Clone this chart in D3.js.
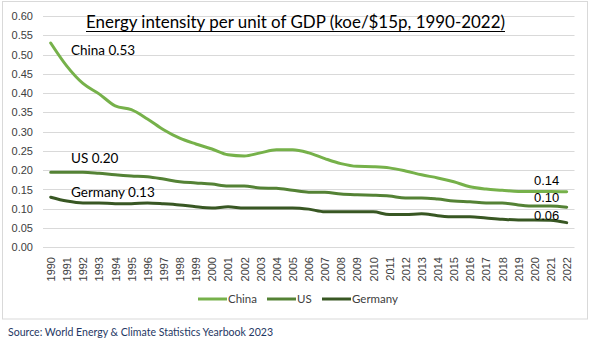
<!DOCTYPE html>
<html>
<head>
<meta charset="utf-8">
<script src="https://cdn.jsdelivr.net/npm/d3@7"></script>
<style>
body { margin: 0; background: #fff; }
svg { display: block; }
</style>
</head>
<body>
<svg id="chart" width="592" height="341"></svg>
<script>
// data
var years = d3.range(1990, 2023).map(String);
var china = [0.530, 0.470, 0.425, 0.398, 0.367, 0.357, 0.333, 0.305, 0.283, 0.268,
             0.255, 0.240, 0.237, 0.245, 0.253, 0.253, 0.245, 0.230, 0.217, 0.210,
             0.209, 0.206, 0.198, 0.188, 0.180, 0.170, 0.157, 0.151, 0.148, 0.145,
             0.145, 0.145, 0.144];
var us = [0.195, 0.195, 0.195, 0.192, 0.188, 0.185, 0.183, 0.177, 0.170, 0.167,
          0.164, 0.159, 0.159, 0.154, 0.153, 0.148, 0.143, 0.143, 0.138, 0.136,
          0.135, 0.133, 0.128, 0.128, 0.125, 0.120, 0.118, 0.115, 0.115, 0.110,
          0.107, 0.107, 0.104];
var germany = [0.130, 0.120, 0.115, 0.115, 0.113, 0.113, 0.115, 0.113, 0.110, 0.105,
               0.102, 0.105, 0.102, 0.102, 0.102, 0.102, 0.099, 0.092, 0.092, 0.092,
               0.092, 0.085, 0.085, 0.087, 0.082, 0.079, 0.079, 0.076, 0.073, 0.071,
               0.071, 0.070, 0.064];
var yTicks = [0, 0.05, 0.1, 0.15, 0.2, 0.25, 0.3, 0.35, 0.4, 0.45, 0.5, 0.55, 0.6];
var seriesNames = ["China", "US", "Germany"];

var series = [
    {name: "China", values: china, color: "#76b14a"},
    {name: "US", values: us, color: "#548235"},
    {name: "Germany", values: germany, color: "#385723"}
];

var svg = d3.select("#chart");
var font = "Lato, 'Open Sans', sans-serif";
var fmt = d3.format(".2f");

// outer frame
svg.append("rect")
    .attr("x", 2.5).attr("y", 1.5)
    .attr("width", 585).attr("height", 317.5)
    .attr("fill", "#fff")
    .attr("stroke", "#d9d9d9")
    .attr("stroke-width", 1);

var xScale = d3.scalePoint()
    .domain(years)
    .range([50.7, 566.7]);

var yScale = d3.scaleLinear()
    .domain([0, 0.6])
    .range([247.3, 16]);

// gridlines
svg.append("g")
    .selectAll("line")
    .data(yTicks)
    .enter()
    .append("line")
    .attr("x1", 43).attr("x2", 574.5)
    .attr("y1", d => Math.round(yScale(d)) + 0.5)
    .attr("y2", d => Math.round(yScale(d)) + 0.5)
    .attr("stroke", "#d9d9d9")
    .attr("stroke-width", 1);

// y axis
var yAxis = svg.append("g")
    .attr("transform", "translate(37,0)")
    .call(d3.axisLeft(yScale).tickValues(yTicks).tickFormat(fmt).tickSize(0).tickPadding(4));
yAxis.select(".domain").remove();
yAxis.selectAll("text")
    .attr("font-family", "'Liberation Sans', Arial, sans-serif")
    .attr("font-size", "11px")
    .attr("fill", "#404040");

// x axis, rotated year labels
var xAxis = svg.append("g")
    .attr("transform", "translate(0,254)")
    .call(d3.axisBottom(xScale).tickSize(0).tickPadding(0));
xAxis.select(".domain").remove();
xAxis.selectAll("text")
    .attr("font-family", "'Liberation Sans', Arial, sans-serif")
    .attr("font-size", "11px")
    .attr("fill", "#404040")
    .attr("text-anchor", "end")
    .attr("transform", "rotate(-90)")
    .attr("x", -3)
    .attr("y", 0)
    .attr("dy", "0.35em");

// lines
var line = d3.line()
    .x((d, i) => xScale(years[i]))
    .y(d => yScale(d))
    .curve(d3.curveMonotoneX);

svg.append("g")
    .selectAll("path")
    .data(series)
    .enter()
    .append("path")
    .attr("d", d => line(d.values))
    .attr("fill", "none")
    .attr("stroke", d => d.color)
    .attr("stroke-width", 3)
    .attr("stroke-linejoin", "round")
    .attr("stroke-linecap", "round");

// start and end value labels
var startLabels = [
    {text: "China " + fmt(china[0]), y: 55},
    {text: "US " + fmt(us[0]), y: 163},
    {text: "Germany " + fmt(germany[0]), y: 197}
];
svg.append("g")
    .selectAll("text")
    .data(startLabels)
    .enter()
    .append("text")
    .attr("x", 71)
    .attr("y", d => d.y)
    .attr("font-family", font)
    .attr("font-size", "13.5px")
    .attr("font-weight", 400)
    .attr("fill", "#000")
    .text(d => d.text);

var last = years.length - 1;
var endLabels = [
    {text: fmt(china[last]), y: 185},
    {text: fmt(us[last]), y: 202},
    {text: fmt(germany[last]), y: 220}
];
svg.append("g")
    .selectAll("text")
    .data(endLabels)
    .enter()
    .append("text")
    .attr("x", 534)
    .attr("y", d => d.y)
    .attr("font-family", "'Liberation Sans', Arial, sans-serif")
    .attr("font-size", "13px")
    .attr("fill", "#000")
    .text(d => d.text);

// title
svg.append("text")
    .attr("x", 86)
    .attr("y", 28)
    .attr("font-family", font)
    .attr("font-size", "17.5px")
    .attr("font-weight", 400)
    .attr("fill", "#000")
    .attr("textLength", 419)
    .attr("lengthAdjust", "spacingAndGlyphs")
    .text("Energy intensity per unit of GDP (koe/$15p, 1990-2022)");
svg.append("line")
    .attr("x1", 86).attr("x2", 505)
    .attr("y1", 31.5).attr("y2", 31.5)
    .attr("stroke", "#000").attr("stroke-width", 1);

// legend
var legendX = [198, 267, 322];
var legend = svg.append("g")
    .selectAll("g")
    .data(series)
    .enter()
    .append("g")
    .attr("transform", (d, i) => "translate(" + legendX[i] + ",299)");
legend.append("line")
    .attr("x1", 0).attr("x2", 29)
    .attr("y1", 0).attr("y2", 0)
    .attr("stroke", d => d.color)
    .attr("stroke-width", 3);
legend.append("text")
    .attr("x", 30)
    .attr("y", 0)
    .attr("dy", "0.35em")
    .attr("font-family", font)
    .attr("font-size", "11.5px")
    .attr("fill", "#404040")
    .text((d, i) => seriesNames[i]);

// source note
svg.append("text")
    .attr("x", 8)
    .attr("y", 336)
    .attr("font-family", font)
    .attr("font-size", "10.5px")
    .attr("fill", "#1f3864")
    .attr("textLength", 265)
    .attr("lengthAdjust", "spacingAndGlyphs")
    .text("Source: World Energy & Climate Statistics Yearbook 2023");
</script>
</body>
</html>
